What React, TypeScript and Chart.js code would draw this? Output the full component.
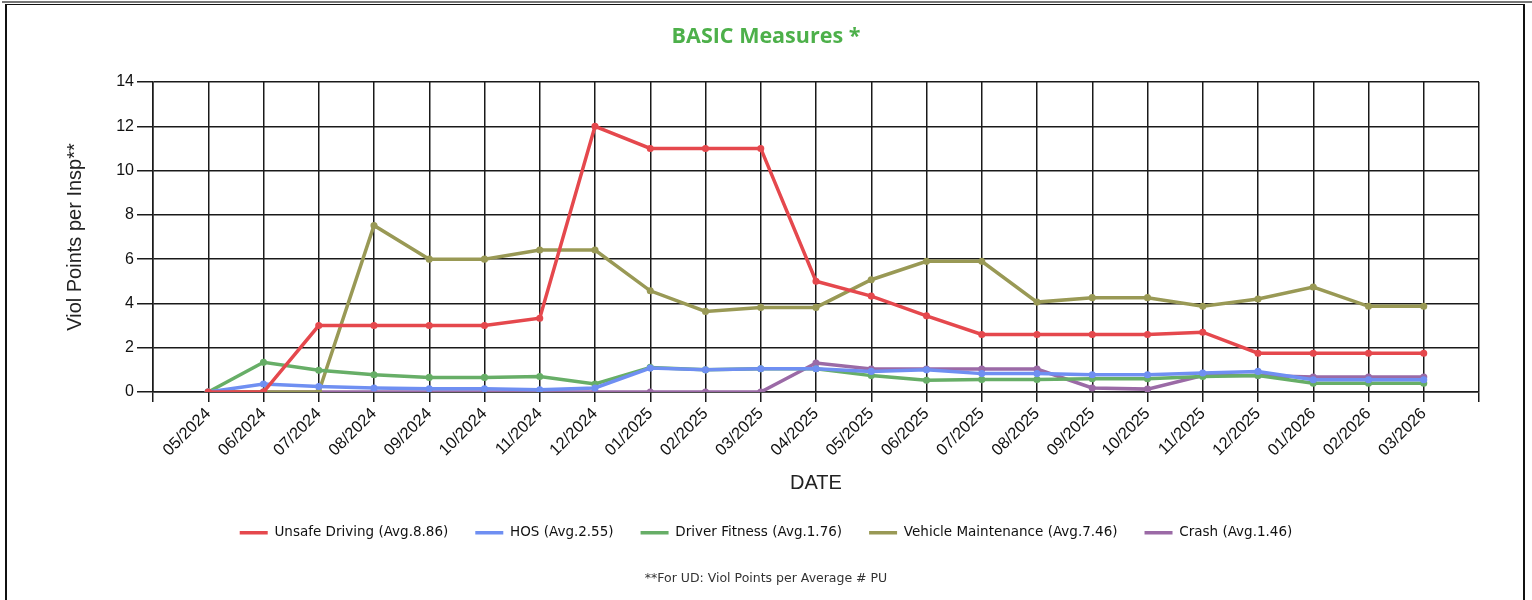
import React, { useEffect, useRef } from "react";
import { Chart, registerables } from "chart.js";

Chart.register(...registerables);

const dates = [
  "05/2024", "06/2024", "07/2024", "08/2024", "09/2024", "10/2024", "11/2024", "12/2024",
  "01/2025", "02/2025", "03/2025", "04/2025", "05/2025", "06/2025", "07/2025", "08/2025",
  "09/2025", "10/2025", "11/2025", "12/2025", "01/2026", "02/2026", "03/2026",
];

const unsafeDriving = [0, 0, 3, 3, 3, 3, 3.33, 12, 11, 11, 11, 5, 4.33, 3.44, 2.6, 2.6, 2.6, 2.6, 2.7, 1.75, 1.75, 1.75, 1.75];
const hos = [0, 0.36, 0.25, 0.18, 0.15, 0.15, 0.1, 0.18, 1.08, 1.0, 1.05, 1.05, 0.93, 1.0, 0.83, 0.83, 0.78, 0.78, 0.86, 0.93, 0.55, 0.55, 0.55];
const driverFitness = [0, 1.34, 0.98, 0.78, 0.66, 0.66, 0.7, 0.36, 1.11, 1.0, 1.05, 1.05, 0.74, 0.53, 0.56, 0.56, 0.6, 0.6, 0.7, 0.75, 0.4, 0.4, 0.4];
const vehicleMaintenance = [0, 0, 0, 7.52, 6.0, 6.0, 6.41, 6.41, 4.57, 3.64, 3.82, 3.82, 5.07, 5.9, 5.9, 4.06, 4.26, 4.26, 3.87, 4.2, 4.74, 3.87, 3.87];
const crash = [0, 0, 0, 0, 0, 0, 0, 0, 0, 0, 0, 1.31, 1.04, 1.04, 1.04, 1.04, 0.18, 0.13, 0.74, 0.74, 0.68, 0.68, 0.68];

const seriesNames = [
  "Unsafe Driving (Avg.8.86)",
  "HOS (Avg.2.55)",
  "Driver Fitness (Avg.1.76)",
  "Vehicle Maintenance (Avg.7.46)",
  "Crash (Avg.1.46)",
];
const seriesValues = [unsafeDriving, hos, driverFitness, vehicleMaintenance, crash];
const seriesColors = ["#e5484d", "#6f8ff2", "#67ae67", "#999955", "#9b6aa6"];

const yTicksMin = 0;
const yTicksMax = 14;
const yTicksStep = 2;

const titleText = "BASIC Measures *";
const xTitle = "DATE";
const yTitle = "Viol Points per Insp**";
const footnote = "**For UD: Viol Points per Average # PU";

export default function App() {
  const canvasRef = useRef<HTMLCanvasElement | null>(null);

  useEffect(() => {
    const canvas = canvasRef.current;
    if (!canvas) return;
    const gridColor = "#1a1a1a";
    const chart = new Chart(canvas, {
      type: "line",
      data: {
        labels: ["", ...dates, ""],
        datasets: seriesNames.map((name, i) => ({
          label: name,
          data: [null, ...seriesValues[i], null],
          borderColor: seriesColors[i],
          backgroundColor: seriesColors[i],
          pointBackgroundColor: seriesColors[i],
          pointBorderColor: seriesColors[i],
          pointRadius: 1.8,
          pointHoverRadius: 1.8,
          borderWidth: 3.5,
          fill: false,
          tension: 0,
          yAxisID: "y",
        })),
      },
      options: {
        animation: false,
        responsive: false,
        devicePixelRatio: 1,
        layout: { padding: { left: 0, right: 0, top: 0, bottom: 0 } },
        plugins: {
          title: {
            display: true,
            text: titleText,
            color: "#4db04a",
            font: { family: "Open Sans", size: 21.5, weight: "bold" },
            padding: { top: 24, bottom: 32.2 },
          },
          legend: {
            position: "bottom",
            labels: {
              usePointStyle: true,
              pointStyle: "line",
              pointStyleWidth: 28,
              padding: 27,
              color: "#111",
              font: { family: "DejaVu Sans", size: 13.5 },
            },
          },
          subtitle: {
            display: true,
            position: "bottom",
            text: footnote,
            color: "#333",
            font: { family: "DejaVu Sans", size: 12.5 },
            padding: { top: 22, bottom: 13.5 },
          },
          tooltip: { enabled: false },
        },
        scales: {
          x: {
            grid: { color: gridColor, lineWidth: 1.5, tickLength: 10, drawTicks: true },
            border: { color: gridColor, width: 1.5 },
            ticks: {
              autoSkip: false,
              minRotation: 45,
              maxRotation: 45,
              color: "#111",
              font: { family: "Liberation Sans", size: 16.5 },
              padding: 2,
            },
            title: {
              display: true,
              text: xTitle,
              color: "#222",
              font: { family: "Liberation Sans", size: 20 },
              padding: { top: 0, bottom: 4 },
            },
            afterFit: (s: any) => {
              s.height = 107;
            },
          },
          y: {
            min: yTicksMin,
            max: yTicksMax,
            grid: { color: gridColor, lineWidth: 1.5, tickLength: 16 },
            border: { color: gridColor, width: 1.5 },
            ticks: {
              stepSize: yTicksStep,
              color: "#111",
              font: { family: "Liberation Sans", size: 16 },
              padding: 3,
            },
            title: {
              display: true,
              text: yTitle,
              color: "#222",
              font: { family: "Liberation Sans", size: 20 },
              padding: { top: 63, bottom: 0 },
            },
            afterFit: (s: any) => {
              s.width = 153;
            },
          },
          y2: {
            type: "linear",
            position: "right",
            display: true,
            grid: { display: false },
            border: { display: false },
            ticks: { display: false },
            afterFit: (s: any) => {
              s.width = 53;
            },
          },
        },
      },
    } as any);
    return () => chart.destroy();
  }, []);

  return (
    <div
      style={{
        position: "absolute",
        left: 0,
        top: 0,
        width: 1532,
        height: 600,
        background: "#fff",
        overflow: "hidden",
      }}
    >
      <div style={{ position: "absolute", left: 2, top: 1, right: 0, height: 2, background: "#777" }} />
      <div
        style={{
          position: "absolute",
          left: 5,
          top: 4,
          width: 1520,
          height: 600,
          boxSizing: "border-box",
          borderLeft: "2px solid #111",
          borderTop: "1.5px solid #111",
          borderRight: "2px solid #111",
        }}
      />
      <canvas
        ref={canvasRef}
        width={1532}
        height={600}
        style={{ position: "absolute", left: 0, top: 0, width: 1532, height: 600 }}
      />
    </div>
  );
}
